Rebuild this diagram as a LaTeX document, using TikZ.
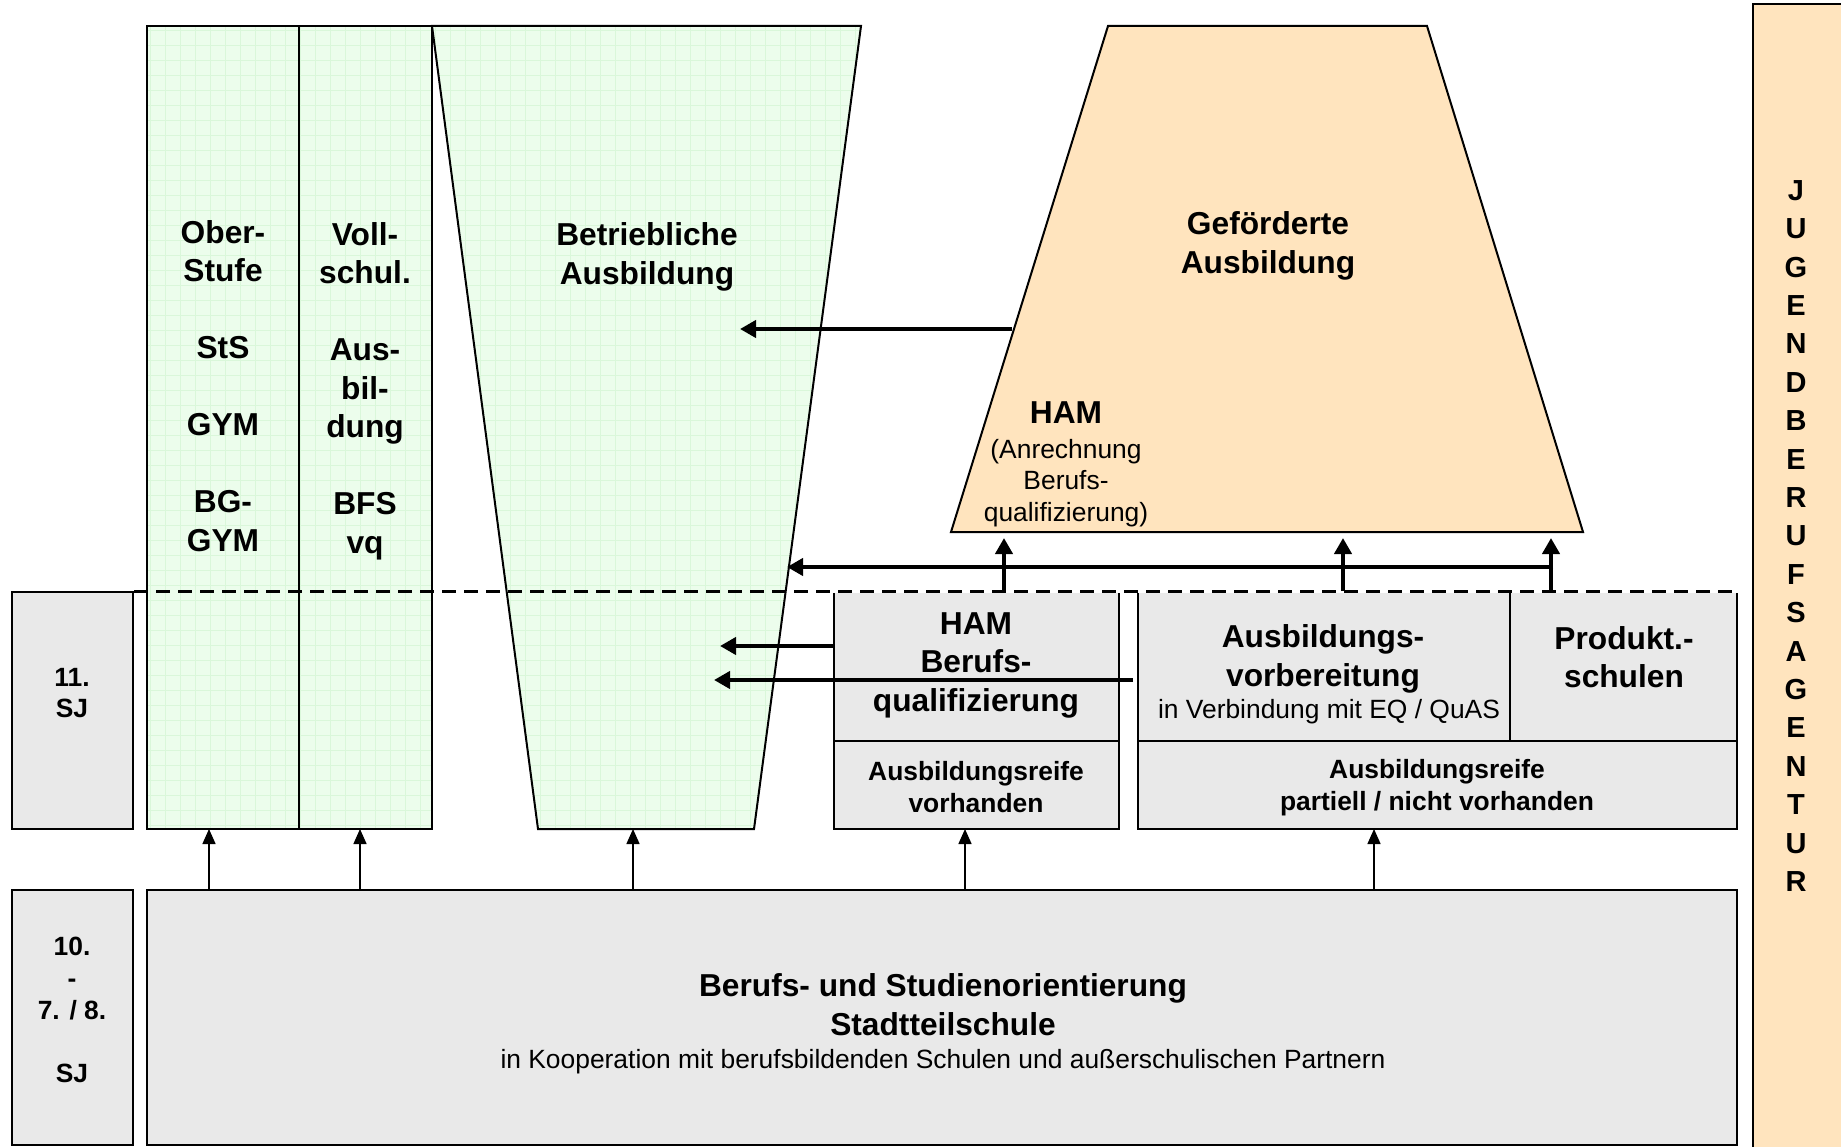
\documentclass[tikz,border=0pt]{standalone}
\usepackage{fontspec}
\setmainfont{Liberation Sans}
\usetikzlibrary{arrows.meta}
\definecolor{gridfill}{RGB}{236,253,236}
\definecolor{gridline}{RGB}{218,247,218}
\definecolor{boxgrey}{RGB}{233,233,233}
\definecolor{orangefill}{RGB}{255,228,190}
\begin{document}
\begin{tikzpicture}[x=1pt,y=-1pt,
  greybox/.style={draw=black, line width=2pt, fill=boxgrey, inner sep=0pt},
  outline/.style={draw=black, line width=2pt, inner sep=0pt},
  bigb/.style={font=\fontsize{31.7}{38.5}\selectfont\bfseries, align=center, inner sep=0pt},
  smallb/.style={font=\fontsize{26.4}{31.7}\selectfont\bfseries, align=center, inner sep=0pt},
  smallr/.style={font=\fontsize{26.4}{31.7}\selectfont, align=center, inner sep=0pt},
  letters/.style={font=\fontsize{29}{38.4}\selectfont\bfseries, align=center, inner sep=0pt},
  thinarrow/.style={line width=1.5pt, -{Triangle[width=13pt,length=15pt]}},
  thickarrow/.style={line width=4pt, -{Triangle[width=17pt,length=16pt]}},
  sepline/.style={line width=3pt, dash pattern=on 14pt off 8pt}
]
\useasboundingbox (0,0) rectangle (1841,1147);

% Jugendberufsagentur bar
\draw[line width=2pt, fill=orangefill] (1753,4) rectangle (1847,1153);
\node[letters] (jba) at (1796,536) {J\\U\\G\\E\\N\\D\\B\\E\\R\\U\\F\\S\\A\\G\\E\\N\\T\\U\\R};

% green areas with grid
\begin{scope}
  \clip (147,26) rectangle (432,829) (432,26) -- (861,26) -- (754,829) -- (538,829) -- cycle;
  \fill[gridfill] (140,20) rectangle (870,835);
  \draw[gridline, line width=0.6pt, step=15pt] (140,20) grid (870,835);
\end{scope}
\node[outline, minimum width=152pt, minimum height=803pt] (ober) at (223,427.5) {};
\node[outline, minimum width=133pt, minimum height=803pt] (voll) at (365.5,427.5) {};
\draw[line width=2pt, line join=miter] (432,26) -- (861,26) -- (754,829) -- (538,829) -- cycle;

% orange trapezoid
\draw[line width=2pt, fill=orangefill] (1108,26) -- (1427,26) -- (1583,532) -- (951,532) -- cycle;

% grey boxes
\node[greybox, minimum width=121pt, minimum height=237pt] (sj11) at (72.5,710.5) {};
\node[greybox, minimum width=121pt, minimum height=255pt] (sj10) at (72.5,1017.5) {};
\node[greybox, minimum width=1590pt, minimum height=255pt] (base) at (942,1017.5) {};
\node[greybox, minimum width=285pt, minimum height=149pt] (hamtop) at (976.5,666.5) {};
\node[greybox, minimum width=285pt, minimum height=88pt] (hambot) at (976.5,785) {};
\node[greybox, minimum width=372pt, minimum height=149pt] (avtop) at (1324,666.5) {};
\node[greybox, minimum width=227pt, minimum height=149pt] (prod) at (1623.5,666.5) {};
\node[greybox, minimum width=599pt, minimum height=88pt] (avbot) at (1437.5,785) {};

% dashed separator
\draw[white, line width=3pt] (hamtop.north west) -- (prod.north east);
\draw[sepline] (sj11.north east) -- (prod.north east);

% texts
\node[bigb] (tober) at (223,386) {Ober-\\Stufe\\[38.5pt]StS\\[38.5pt]GYM\\[38.5pt]BG-\\GYM};
\node[bigb] (tvoll) at (365,391) {Voll-\\schul.\\[38.5pt]Aus-\\bil-\\dung\\[38.5pt]BFS\\vq};
\node[bigb] (tbetr) at (647,257) {Betriebliche\\Ausbildung};
\node[bigb] (tgef) at (1268,246) {Geförderte\\Ausbildung};
\node[bigb] (tham1) at (1066,413) {HAM};
\node[smallr] (tham2) at (1066,483) {(Anrechnung\\Berufs-\\qualifizierung)};
\node[smallb] (tsj11) at (72,693) {11.\\SJ};
\node[smallb] (tsj10) at (72,1010) {10.\\-\\7. / 8.\\[31.7pt]SJ};
\node[bigb] (thamq) at (976,665) {HAM\\Berufs-\\qualifizierung};
\node[smallb] (treif1) at (976,787) {Ausbildungsreife\\vorhanden};
\node[bigb] (tav) at (1323,659) {Ausbildungs-\\vorbereitung};
\node[smallr] (tavs) at (1329,712) {in Verbindung mit EQ / QuAS};
\node[bigb] (tprod) at (1624,657) {Produkt.-\\schulen};
\node[smallb] (treif2) at (1437,788) {Ausbildungsreife\\partiell / nicht vorhanden};
\node[bigb] (tbase1) at (943,1004.5) {Berufs- und Studienorientierung\\Stadtteilschule};
\node[smallr] (tbase2) at (943,1061.5) {in Kooperation mit berufsbildenden Schulen und außerschulischen Partnern};

% up arrows from base
\coordinate (u1) at (209,829);
\coordinate (u2) at (360,829);
\coordinate (u3) at (633,829);
\coordinate (u4) at (965,829);
\coordinate (u5) at (1374,829);
\foreach \u in {u1,u2,u3,u4,u5} \draw[thinarrow] (\u |- base.north) -- (\u);

% arrows to orange trapezoid
\coordinate (t1) at (1004,538);
\coordinate (t2) at (1343,538);
\coordinate (t3) at (1551,538);
\draw[thickarrow] (t1 |- hamtop.north) -- (t1);
\draw[thickarrow] (t2 |- avtop.north) -- (t2);
\draw[thickarrow] (t3 |- prod.north) -- (t3);
\coordinate (hj) at (1553,567);
\coordinate (bt) at (787,567);
\draw[thickarrow] (hj) -- (bt);

% leftward arrows
\coordinate (gl) at (1012,329);
\coordinate (gt) at (740,329);
\draw[thickarrow] (gl) -- (gt);
\coordinate (ha) at (720,646);
\draw[thickarrow] (ha -| hamtop.west) -- (ha);
\coordinate (va) at (714,680);
\draw[thickarrow] ([xshift=-4pt]va -| avtop.west) -- (va);
\end{tikzpicture}
\end{document}
